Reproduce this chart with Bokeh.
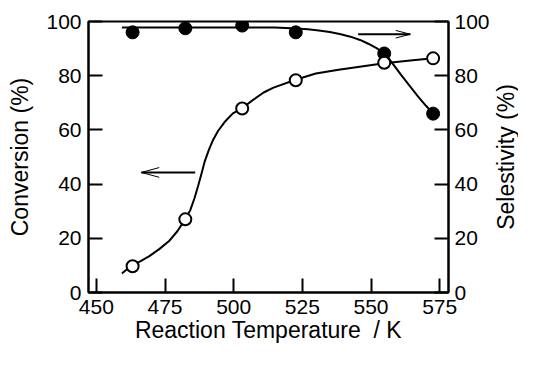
from math import pi
from bokeh.plotting import figure
from bokeh.models import Range1d, LinearAxis, FixedTicker, Label
from bokeh.embed import file_html
from bokeh.resources import INLINE

# ---- data ----
temperature = [463.2, 482.4, 503.1, 522.6, 554.8, 572.6]
conversion = [9.7, 27.0, 67.9, 78.3, 84.8, 86.4]
selectivity = [96.0, 97.5, 98.5, 96.0, 88.2, 66.0]

conv_curve_x = [459.3, 462.8, 465.8, 469.3, 472.9, 476.5, 479.5, 482.4, 484.2, 485.7,
                487.1, 488.4, 489.5, 491.0, 492.5, 494.3, 496.7, 499.6, 503.2, 506.7,
                510.9, 514.5, 522.8, 529.9, 538.2, 546.5, 554.8, 564.3, 572.6]
conv_curve_y = [7.0, 10.0, 11.4, 13.4, 16.0, 19.0, 22.6, 27.1, 30.4, 34.7,
                39.5, 44.3, 48.5, 52.7, 56.3, 59.6, 62.9, 66.0, 68.1, 70.8,
                73.8, 75.6, 78.6, 80.8, 82.2, 83.4, 84.6, 85.6, 86.4]

sel_curve_x = [459.3, 515.0, 522.7, 527.0, 531.0, 535.0, 539.0, 542.5, 546.0, 549.0,
               552.0, 554.8, 556.5, 558.5, 561.0, 564.0, 567.0, 570.0, 572.6]
sel_curve_y = [97.8, 97.8, 97.4, 97.1, 96.7, 96.1, 95.3, 94.4, 93.2, 91.8,
               90.2, 88.3, 86.3, 83.6, 80.2, 76.3, 72.5, 68.9, 66.0]

x_ticks = [450, 475, 500, 525, 550, 575]
y_ticks = [0, 20, 40, 60, 80, 100]

FONT = "Liberation Sans"

p = figure(width=518, height=350, x_range=Range1d(447.15, 578.2), y_range=Range1d(0, 100),
           output_backend="svg", toolbar_location=None,
           min_border_left=88, min_border_right=69, min_border_top=21, min_border_bottom=58)
p.extra_y_ranges = {"sel": Range1d(0, 100)}
p.add_layout(LinearAxis(y_range_name="sel"), "right")

p.xgrid.visible = False
p.ygrid.visible = False
p.outline_line_color = "black"
p.outline_line_width = 2
p.background_fill_color = "white"
p.border_fill_color = "white"

for ax in p.xaxis + p.yaxis:
    ax.axis_line_width = 2
    ax.axis_line_color = "black"
    ax.major_tick_in = 14
    ax.major_tick_out = 0
    ax.major_tick_line_width = 2
    ax.major_tick_line_color = "black"
    ax.minor_tick_line_color = None
    ax.major_label_text_font = FONT
    ax.major_label_text_font_size = "21px"
    ax.major_label_text_color = "black"
    ax.major_label_standoff = 7
    ax.axis_label_text_font = FONT
    ax.axis_label_text_font_size = "23px"
    ax.axis_label_text_font_style = "normal"
    ax.axis_label_text_color = "black"
p.xaxis.ticker = FixedTicker(ticks=x_ticks)
for ax in p.yaxis:
    ax.ticker = FixedTicker(ticks=y_ticks)

left_ax = p.left[0]
right_ax = p.right[0]
left_ax.axis_label = "Conversion (%)"
left_ax.axis_label_standoff = 10
right_ax.major_label_standoff = 6
p.xaxis.axis_label = "Reaction Temperature \u00a0/ K"
p.xaxis.axis_label_standoff = 0

# right-hand title, reading bottom to top, placed in the right side panel
p.add_layout(Label(x=599.2, y=50, text="Selestivity (%)", angle=pi / 2,
                   text_align="center", text_baseline="alphabetic",
                   text_font=FONT, text_font_size="23px", text_color="black"), "right")

# fitted curves
p.line(conv_curve_x, conv_curve_y, line_color="black", line_width=2)
p.line(sel_curve_x, sel_curve_y, line_color="black", line_width=2, y_range_name="sel")

# points
p.scatter(temperature, selectivity, size=13, fill_color="black", line_color="black",
          line_width=1, y_range_name="sel")
p.scatter(temperature, conversion, size=12, fill_color="white", line_color="black",
          line_width=2)

# arrows (annotation geometry)
p.line([486.0, 466.4], [44.3, 44.3], line_color="black", line_width=2)
p.line([472.9, 466.4, 472.9], [46.1, 44.3, 42.5], line_color="black", line_width=1)
p.line([545.3, 564.3], [95.3, 95.3], line_color="black", line_width=2)
p.line([559.0, 564.3, 559.0], [96.7, 95.3, 93.9], line_color="black", line_width=1)

open("out.html", "w").write(file_html(p, INLINE))
